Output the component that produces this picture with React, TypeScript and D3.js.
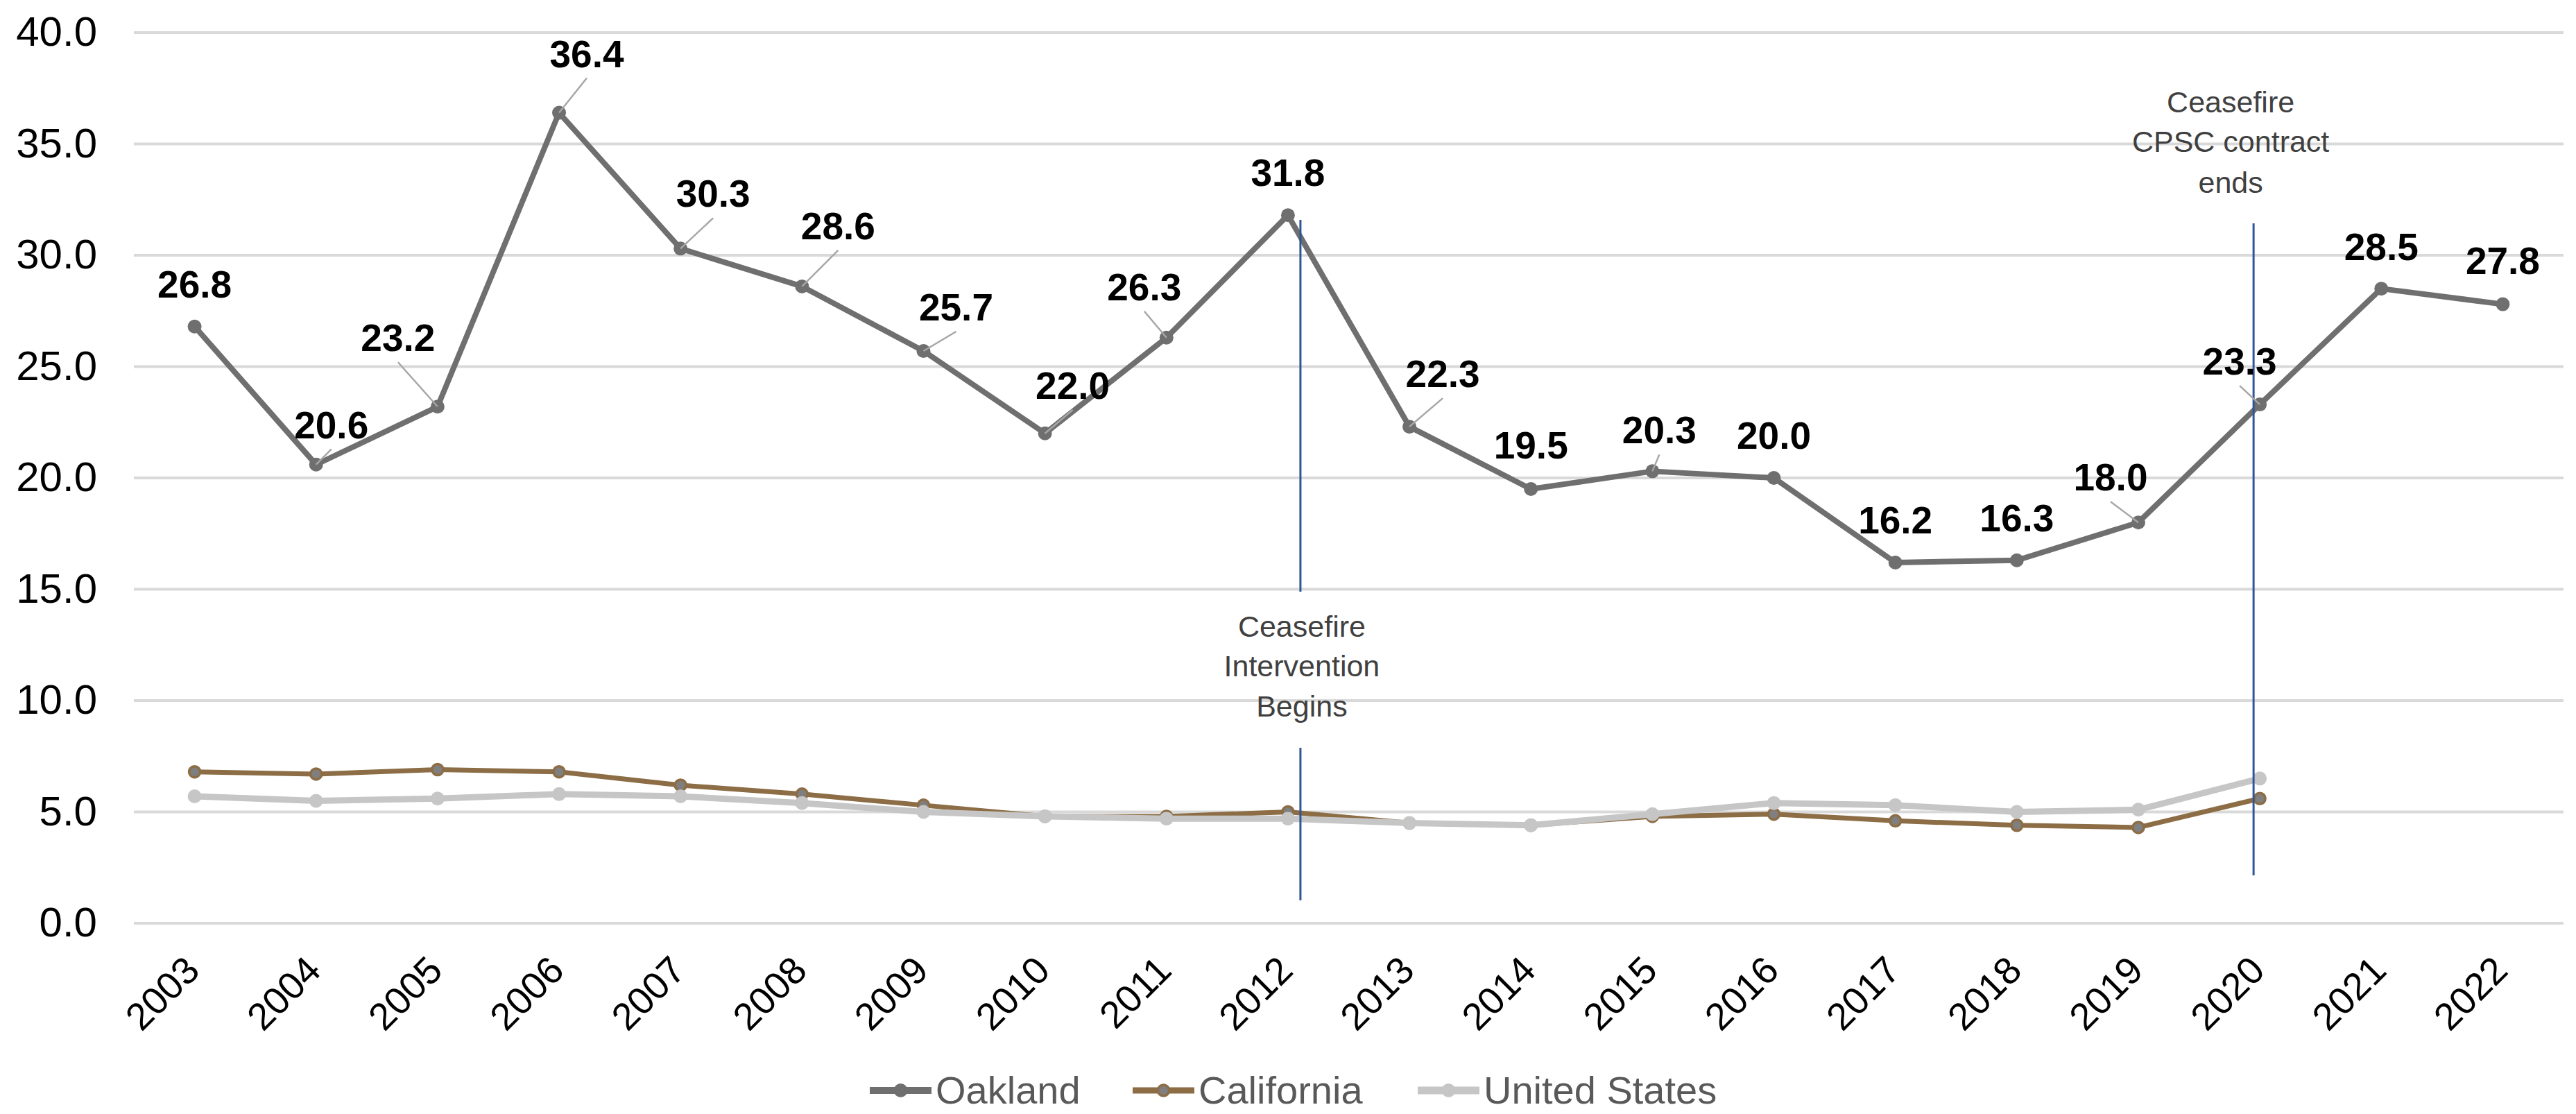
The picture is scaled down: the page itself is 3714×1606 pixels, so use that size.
import * as d3 from "d3";

const years = [
  2003, 2004, 2005, 2006, 2007, 2008, 2009, 2010, 2011, 2012,
  2013, 2014, 2015, 2016, 2017, 2018, 2019, 2020, 2021, 2022,
];
const oakland = [
  26.8, 20.6, 23.2, 36.4, 30.3, 28.6, 25.7, 22.0, 26.3, 31.8,
  22.3, 19.5, 20.3, 20.0, 16.2, 16.3, 18.0, 23.3, 28.5, 27.8,
];
// state and national series stop at 2020
const california = [
  6.8, 6.7, 6.9, 6.8, 6.2, 5.8, 5.3, 4.8, 4.8, 5.0,
  4.5, 4.4, 4.8, 4.9, 4.6, 4.4, 4.3, 5.6,
];
const unitedStates = [
  5.7, 5.5, 5.6, 5.8, 5.7, 5.4, 5.0, 4.8, 4.7, 4.7,
  4.5, 4.4, 4.9, 5.4, 5.3, 5.0, 5.1, 6.5,
];
const yTicks = [0, 5, 10, 15, 20, 25, 30, 35, 40];
const seriesNames = ["Oakland", "California", "United States"];
const annotationYears = [2012, 2020];
const annotationTexts = [
  ["Ceasefire", "Intervention", "Begins"],
  ["Ceasefire", "CPSC contract", "ends"],
];

// label placement for the Oakland values (dx, dy of label centre from point, leader?)
const labelOffsets: [number, number, boolean][] = [
  [0, -62, false], [22, -58, true], [-57, -100, true], [40, -86, true],
  [47, -80, true], [52, -88, true], [47, -64, true], [40, -70, true],
  [-32, -74, true], [0, -62, false], [48, -77, true], [0, -64, false],
  [10, -60, true], [0, -62, false], [0, -62, false], [0, -62, false],
  [-40, -66, true], [-29, -63, true], [0, -61, false], [0, -64, false],
];

const W = 3714;
const H = 1606;
const FONT = "'Liberation Sans', Arial, Helvetica, sans-serif";

const OAK = "#6f6f6f";
const CAL = "#8c6d45";
const CAL_DOT = "#7f7f7f";
const US = "#c6c6c6";
const BLUE = "#2f5597";

export default function App() {
  const x = d3.scalePoint<number>().domain(years).range([193, 3696]).padding(0.5);
  const y = d3.scaleLinear().domain([0, 40]).range([1331, 47]);

  const line = d3
    .line<number>()
    .x((_d, i) => x(years[i]) as number)
    .y((d) => y(d));

  const series = [
    { name: seriesNames[0], data: oakland, stroke: OAK, fill: OAK, width: 8, r: 10, dotStroke: 0 },
    { name: seriesNames[1], data: california, stroke: CAL, fill: CAL_DOT, width: 7, r: 8, dotStroke: 3.5 },
    { name: seriesNames[2], data: unitedStates, stroke: US, fill: US, width: 9, r: 10, dotStroke: 0 },
  ];

  const legendX = [1254, 1633, 2044];
  const legendY = 1572;

  const annoLayout = [
    { dx: 18, segs: [[317, 853], [1078, 1298]], baselines: [918, 975, 1033], tdx: 20 },
    { dx: -9, segs: [[322, 1262]], baselines: [162, 219, 278], tdx: -15 },
  ];

  return (
    <svg
      width={W}
      height={H}
      style={{ position: "absolute", left: 0, top: 0, display: "block", background: "#fff" }}
      fontFamily={FONT}
    >
      {yTicks.map((t) => (
        <g key={t}>
          <line x1={193} x2={3696} y1={y(t)} y2={y(t)} stroke="#d9d9d9" strokeWidth={4} />
          <text x={140} y={y(t) + 19} textAnchor="end" fontSize={60} fill="#000">
            {t.toFixed(1)}
          </text>
        </g>
      ))}

      {years.map((yr) => (
        <text
          key={yr}
          transform={`translate(${(x(yr) as number) + 10},${1402}) rotate(-45)`}
          textAnchor="end"
          fontSize={55}
          fill="#000"
        >
          {yr}
        </text>
      ))}

      {series.map((s) => (
        <g key={s.name}>
          <path
            d={line(s.data) ?? ""}
            fill="none"
            stroke={s.stroke}
            strokeWidth={s.width}
            strokeLinejoin="round"
            strokeLinecap="round"
          />
          {s.data.map((v, i) => (
            <circle
              key={i}
              cx={x(years[i]) as number}
              cy={y(v)}
              r={s.r}
              fill={s.fill}
              stroke={s.dotStroke ? s.stroke : "none"}
              strokeWidth={s.dotStroke}
            />
          ))}
        </g>
      ))}

      {annotationYears.map((yr, k) => {
        const a = annoLayout[k];
        const ax = (x(yr) as number) + a.dx;
        return (
          <g key={yr}>
            {a.segs.map(([y1, y2], j) => (
              <line key={j} x1={ax} x2={ax} y1={y1} y2={y2} stroke={BLUE} strokeWidth={3} />
            ))}
            {annotationTexts[k].map((t, j) => (
              <text
                key={j}
                x={ax + a.tdx - 18}
                y={a.baselines[j]}
                textAnchor="middle"
                fontSize={43}
                fill="#404040"
              >
                {t}
              </text>
            ))}
          </g>
        );
      })}

      {oakland.map((v, i) => {
        const px = x(years[i]) as number;
        const py = y(v);
        const [dx, dy, leader] = labelOffsets[i];
        const lx = px + dx;
        const lyc = py + dy;
        return (
          <g key={i}>
            {leader && (
              <line x1={px} y1={py} x2={lx} y2={lyc + 36} stroke="#a6a6a6" strokeWidth={2.5} />
            )}
            <text x={lx} y={lyc + 20} textAnchor="middle" fontSize={55} fontWeight="bold" fill="#000">
              {v.toFixed(1)}
            </text>
          </g>
        );
      })}

      {series.map((s, k) => (
        <g key={s.name} transform={`translate(${legendX[k]},${legendY})`}>
          <line x1={0} x2={89} y1={0} y2={0} stroke={s.stroke} strokeWidth={s.width + 2} />
          <circle cx={44.5} cy={0} r={s.r} fill={s.fill} stroke={s.dotStroke ? s.stroke : "none"} strokeWidth={s.dotStroke} />
          <text x={95} y={19} fontSize={56} fill="#595959">
            {s.name}
          </text>
        </g>
      ))}
    </svg>
  );
}
